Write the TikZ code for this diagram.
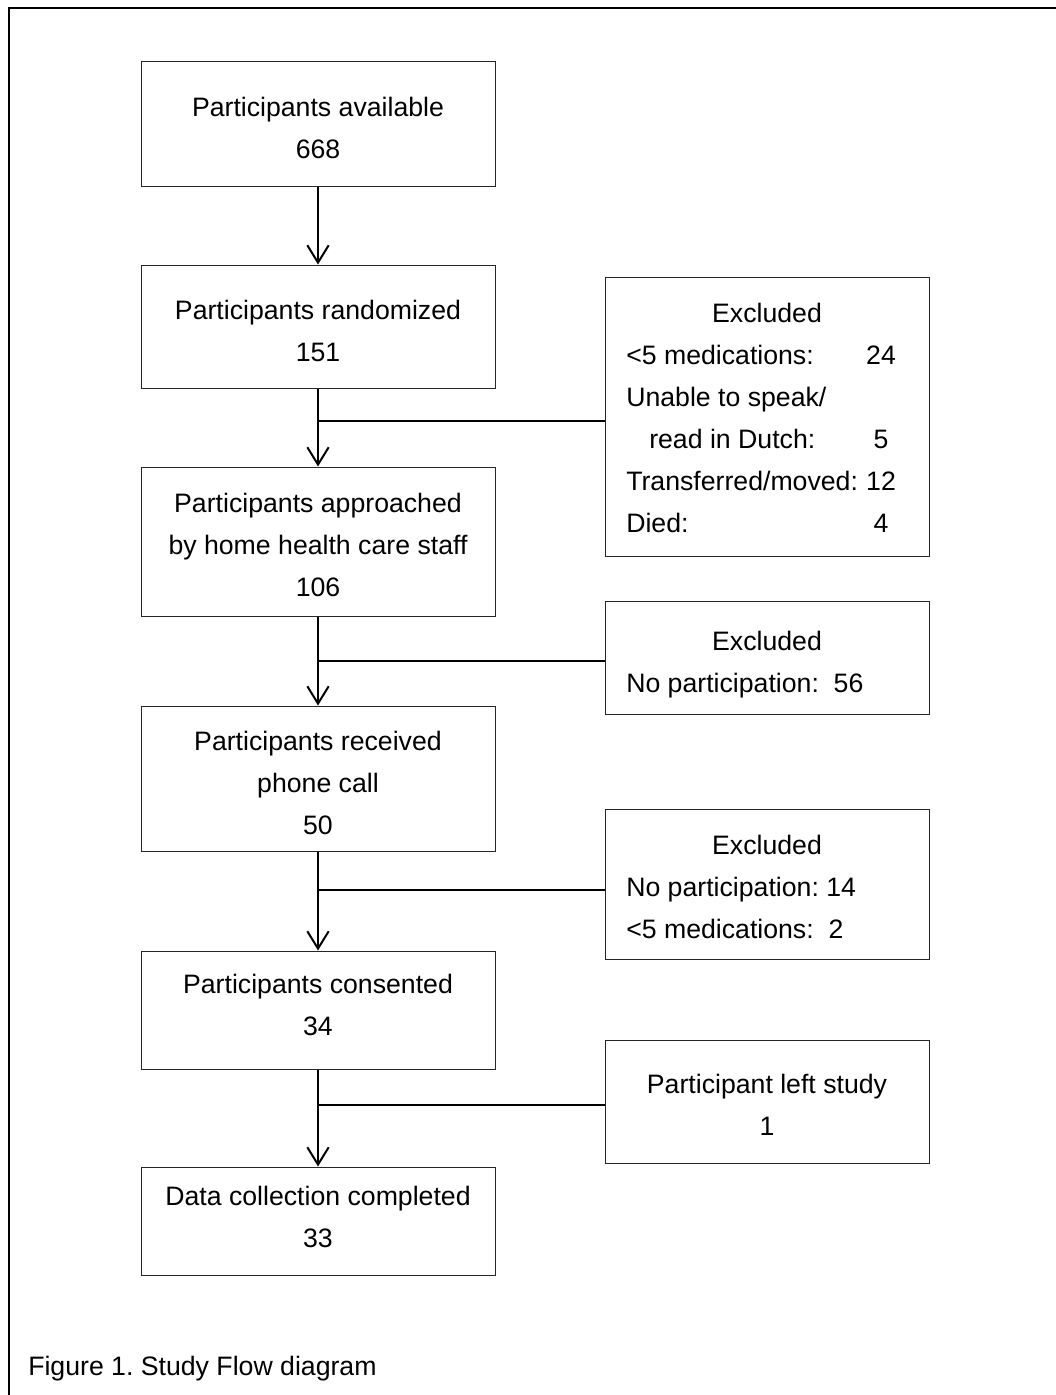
\documentclass[tikz,border=0pt]{standalone}
\usepackage{fontspec}
\setmainfont{Liberation Sans}
\usetikzlibrary{arrows.meta}
\begin{document}
\frenchspacing
\begin{tikzpicture}[x=0.75pt,y=-0.75pt,
  box/.style={draw=black!85, line width=0.75pt, inner sep=0pt},
  txt/.style={inner sep=0pt, align=center, font=\fontsize{20}{31.5}\selectfont},
  flow/.style={line width=1.5pt, -{Straight Barb[length=13pt,width=16pt,line width=1.5pt]}},
  link/.style={line width=1.5pt},
  frame/.style={line width=1.5pt}]
\useasboundingbox (0,0) rectangle (1056,1395);
% outer frame (cropped)
\draw[frame] (9,1395) -- (9,8) -- (1056,8);
% main column boxes
\node[box, minimum width=265.5pt, minimum height=93pt] (b1) at (318,124) {};
\node[box, minimum width=265.5pt, minimum height=92.25pt] (b2) at (318,326.5) {};
\node[box, minimum width=265.5pt, minimum height=111.75pt] (b3) at (318,541.5) {};
\node[box, minimum width=265.5pt, minimum height=108.75pt] (b4) at (318,778.5) {};
\node[box, minimum width=265.5pt, minimum height=88.5pt] (b5) at (318,1010) {};
\node[box, minimum width=265.5pt, minimum height=81pt] (b6) at (318,1221) {};
% main column texts
\node[txt] (b1t) at (318,128) {Participants available\\668};
\node[txt] (b2t) at (318,330.5) {Participants randomized\\151};
\node[txt] (b3t) at (318,545) {Participants approached\\by home health care staff\\106};
\node[txt] (b4t) at (318,782.5) {Participants received\\phone call\\50};
\node[txt] (b5t) at (318,1005) {Participants consented\\34};
\node[txt] (b6t) at (318,1217) {Data collection completed\\33};
% side boxes
\node[box, minimum width=243pt, minimum height=209.25pt] (r1) at (767,416.5) {};
\node[box, minimum width=243pt, minimum height=84.75pt] (r2) at (767,657.5) {};
\node[box, minimum width=243pt, minimum height=112.5pt] (r3) at (767,884) {};
\node[box, minimum width=243pt, minimum height=92.25pt] (r4) at (767,1101.5) {};
% r1 text
\node[txt, anchor=base] (r1h) at (767,322) {Excluded};
\node[txt, anchor=base west] (r1a) at (626,364) {<5 medications:};
\node[txt, anchor=base] (r1an) at (881,364) {24};
\node[txt, anchor=base west] (r1b) at (626,406) {Unable to speak/};
\node[txt, anchor=base west] (r1c) at (649,448) {read in Dutch:};
\node[txt, anchor=base] (r1cn) at (881,448) {5};
\node[txt, anchor=base west] (r1d) at (626,490) {Transferred/moved:};
\node[txt, anchor=base] (r1dn) at (881,490) {12};
\node[txt, anchor=base west] (r1e) at (626,532) {Died:};
\node[txt, anchor=base] (r1en) at (881,532) {4};
% r2 text
\node[txt, anchor=base] (r2h) at (767,650) {Excluded};
\node[txt, anchor=base west] (r2a) at (626,692) {No participation:\ \ 56};
% r3 text
\node[txt, anchor=base] (r3h) at (767,854) {Excluded};
\node[txt, anchor=base west] (r3a) at (626,896) {No participation: 14};
\node[txt, anchor=base west] (r3b) at (626,938) {<5 medications:\ \ 2};
% r4 text
\node[txt, anchor=base] (r4h) at (767,1093) {Participant left study};
\node[txt, anchor=base] (r4a) at (767,1135) {1};
% caption
\node[txt, anchor=base west] (cap) at (28,1375) {Figure 1. Study Flow diagram};
% flow arrows
\draw[flow] (b1) -- (b2);
\draw[flow] (b2) -- (b3);
\draw[flow] (b3) -- (b4);
\draw[flow] (b4) -- (b5);
\draw[flow] (b5) -- (b6);
% branches
\coordinate (j1) at (318,421);
\coordinate (j2) at (318,661);
\coordinate (j3) at (318,890);
\coordinate (j4) at (318,1105);
\draw[link] (j1) -- (j1 -| r1.west);
\draw[link] (j2) -- (j2 -| r2.west);
\draw[link] (j3) -- (j3 -| r3.west);
\draw[link] (j4) -- (j4 -| r4.west);
\end{tikzpicture}
\end{document}
